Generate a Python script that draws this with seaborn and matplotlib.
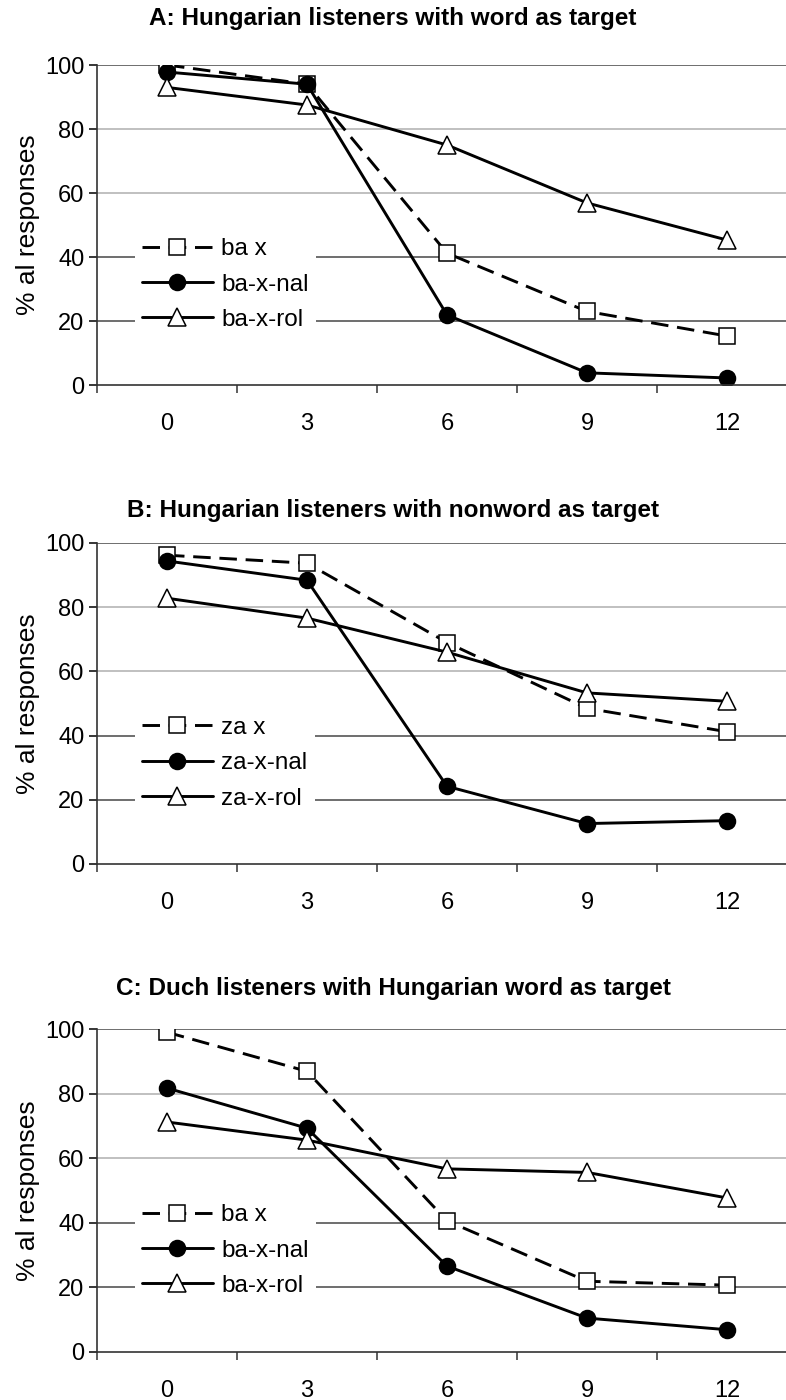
import numpy as np
import pandas as pd
import matplotlib
matplotlib.use("Agg")
import matplotlib.pyplot as plt
import seaborn as sns

sns.set_theme(style="white")
plt.rcParams['font.family'] = ['Liberation Sans', 'DejaVu Sans']
plt.rcParams['text.color'] = 'black'
plt.rcParams['axes.labelcolor'] = 'black'

# data
delays = ['0', '3', '6', '9', '12']

titles = ['A: Hungarian listeners with word as target',
          'B: Hungarian listeners with nonword as target',
          'C: Duch listeners with Hungarian word as target']

labels_a = ['ba x', 'ba-x-nal', 'ba-x-rol']
labels_b = ['za x', 'za-x-nal', 'za-x-rol']
labels_c = ['ba x', 'ba-x-nal', 'ba-x-rol']

a_x = [100, 94, 41.2, 23, 15.3]
a_nal = [97.8, 94, 21.9, 3.8, 2.2]
a_rol = [93, 87.5, 75, 56.9, 45.3]

b_x = [96.2, 93.7, 69.0, 48.5, 41.2]
b_nal = [94.4, 88.4, 24.2, 12.6, 13.5]
b_rol = [82.8, 76.6, 66.0, 53.3, 50.7]

c_x = [99, 86.9, 40.6, 21.9, 20.7]
c_nal = [81.7, 69.3, 26.6, 10.5, 6.9]
c_rol = [71.2, 65.6, 56.7, 55.6, 47.7]

panels = [
    (titles[0], labels_a, [a_x, a_nal, a_rol]),
    (titles[1], labels_b, [b_x, b_nal, b_rol]),
    (titles[2], labels_c, [c_x, c_nal, c_rol]),
]

# series styles: dashed open square, solid filled circle, solid open triangle
styles = [
    dict(marker='s', markerfacecolor='white', markersize=11.5, linestyle=(0, (6, 3))),
    dict(marker='o', markerfacecolor='black', markersize=11.5, linestyle='-'),
    dict(marker='^', markerfacecolor='white', markersize=13, linestyle='-'),
]

W, H = 786, 1400
fig = plt.figure(figsize=(W / 100, H / 100), dpi=100)

# pixel boxes (top, bottom) of each plot area and title y
boxes = [(65, 385, 18), (543, 864, 510), (1029, 1352, 988)]
left_px, right_px = 97, 797

for (title, labels, series), (top, bot, ty) in zip(panels, boxes):
    ax = fig.add_axes([left_px / W, 1 - bot / H, (right_px - left_px) / W, (bot - top) / H])
    pos = np.arange(len(delays))
    for lab, vals, st in zip(labels, series, styles):
        sns.lineplot(x=pos, y=vals, ax=ax, color='black', linewidth=2.1,
                     markeredgecolor='black', markeredgewidth=1.1, label=lab, **st)
    ax.set_xlim(-0.5, 4.5)
    ax.set_ylim(0, 100)
    ax.set_yticks([0, 20, 40, 60, 80, 100])
    ax.set_xticks(pos)
    ax.set_xticklabels(delays)
    ax.set_xticks(np.arange(-0.5, 5, 1), minor=True)
    ax.tick_params(axis='x', which='major', length=0, pad=20, labelsize=17, colors='black')
    ax.tick_params(axis='x', which='minor', length=6, width=1.1, direction='out', bottom=True, color='#333333')
    ax.tick_params(axis='y', length=6, width=1.1, direction='out', left=True, pad=3, labelsize=17,
                   colors='black')
    for gy in [20, 40, 100]:
        ax.axhline(gy, color='#555555', linewidth=1.2, zorder=0)
    for gy in [60, 80]:
        ax.axhline(gy, color='#b5b5b5', linewidth=1.2, zorder=0)
    for s in ['top', 'right']:
        ax.spines[s].set_visible(False)
    ax.spines['left'].set_color('#333333')
    ax.spines['bottom'].set_color('#333333')
    ax.spines['left'].set_linewidth(1.2)
    ax.spines['bottom'].set_linewidth(1.2)
    ax.set_ylabel('% al responses', fontsize=19, labelpad=4)
    ax.set_xlabel('')
    leg = ax.legend(loc='center left', bbox_to_anchor=(0.054, 0.314), borderaxespad=0,
                    frameon=True, facecolor='white', edgecolor='none', framealpha=1,
                    fontsize=17.5, handlelength=2.9, handletextpad=0.35, labelspacing=0.55,
                    borderpad=0.3, numpoints=1)
    leg.get_frame().set_boxstyle('square', pad=0)
    fig.text(0.5, 1 - ty / H, title, ha='center', va='center', fontsize=17.5, fontweight='bold')

fig.savefig('out.png', dpi=100)
